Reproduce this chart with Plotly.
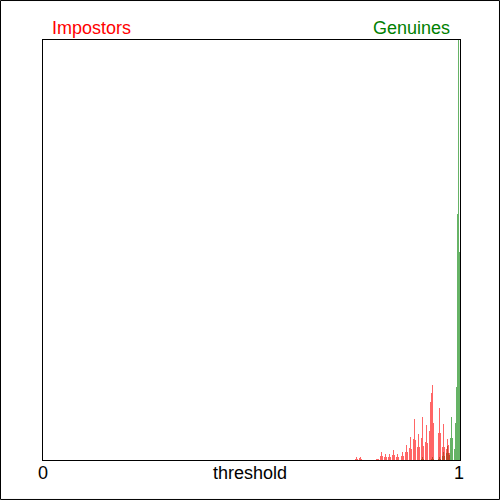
import plotly.graph_objects as go

# Histogram bin centres (threshold) and heights (relative frequency, arbitrary units)
BIN_WIDTH = 0.0025

impostor_threshold = [
    0.7494, 0.7518, 0.7542, 0.7590, 0.7614, 0.7638,
    0.7998, 0.8022, 0.8046, 0.8094, 0.8118, 0.8141,
    0.8189, 0.8213, 0.8237, 0.8285, 0.8309, 0.8333,
    0.8381, 0.8405, 0.8429, 0.8477, 0.8501, 0.8525,
    0.8597, 0.8621, 0.8645, 0.8693, 0.8717, 0.8741,
    0.8789, 0.8813, 0.8837, 0.8885, 0.8909, 0.8933,
    0.8981, 0.9005, 0.9029, 0.9077, 0.9101, 0.9125,
    0.9173, 0.9197, 0.9221, 0.9269, 0.9293, 0.9317,
    0.9341, 0.9365, 0.9484, 0.9508, 0.9532, 0.9580,
    0.9604, 0.9628, 0.9676, 0.9700, 0.9724, 0.9748,
]
impostor_freq = [
    1, 3, 1, 2, 3, 1,
    1, 1, 1, 4, 8, 4,
    3, 6, 3, 3, 6, 3,
    5, 10, 5, 3, 6, 3,
    4, 8, 4, 8, 15, 8,
    12, 23, 11, 21, 41, 20,
    13, 26, 13, 22, 43, 14,
    18, 35, 17, 29, 58, 67,
    75, 37, 27, 52, 27, 13,
    36, 13, 11, 21, 15, 7,
]

genuine_threshold = [
    0.9077, 0.9101, 0.9125, 0.9317, 0.9341, 0.9365,
    0.9484, 0.9508, 0.9532, 0.9580, 0.9604, 0.9628,
    0.9676, 0.9700, 0.9724, 0.9748, 0.9772, 0.9796,
    0.9820, 0.9868, 0.9892, 0.9916, 0.9940, 0.9964,
    0.9988,
]
genuine_freq = [
    1, 3, 1, 1, 3, 1,
    1, 3, 1, 4, 8, 4,
    7, 14, 7, 5, 22, 43,
    22, 11, 37, 73, 246, 420,
    208,
]

FONT = "Liberation Sans, Arial, sans-serif"

fig = go.Figure()
fig.add_trace(go.Bar(
    x=genuine_threshold, y=genuine_freq, width=BIN_WIDTH,
    marker=dict(color="rgba(0,128,0,0.6)", line=dict(width=0)),
    name="Genuines", showlegend=False,
))
fig.add_trace(go.Bar(
    x=impostor_threshold, y=impostor_freq, width=BIN_WIDTH,
    marker=dict(color="rgba(255,0,0,0.6)", line=dict(width=0)),
    name="Impostors", showlegend=False,
))

fig.update_layout(
    width=500, height=500,
    margin=dict(l=43, r=40, t=40, b=40),
    paper_bgcolor="white", plot_bgcolor="white",
    barmode="overlay", bargap=0,
    font=dict(family=FONT, size=18, color="black"),
    xaxis=dict(range=[0, 1], showgrid=False, zeroline=False, showticklabels=False,
               ticks="", showline=True, mirror=True, linecolor="black", linewidth=1),
    yaxis=dict(range=[0, 420], showgrid=False, zeroline=False, showticklabels=False,
               ticks="", showline=True, mirror=True, linecolor="black", linewidth=1),
    shapes=[dict(type="rect", xref="paper", yref="paper",
                 x0=-0.1019, x1=1.0947, y0=-0.0940, y1=1.0940,
                 line=dict(color="black", width=1), fillcolor="rgba(0,0,0,0)", layer="above")],
    annotations=[
        dict(text="Impostors", xref="paper", yref="paper", x=0.0168, y=1.0286,
             xanchor="left", yanchor="middle", showarrow=False,
             font=dict(family=FONT, size=18, color="red")),
        dict(text="Genuines", xref="paper", yref="paper", x=0.9808, y=1.0286,
             xanchor="right", yanchor="middle", showarrow=False,
             font=dict(family=FONT, size=18, color="green")),
        dict(text="0", xref="paper", yref="paper", x=0.0, y=-0.031,
             xanchor="center", yanchor="middle", showarrow=False),
        dict(text="1", xref="paper", yref="paper", x=0.9976, y=-0.031,
             xanchor="center", yanchor="middle", showarrow=False),
        dict(text="threshold", xref="paper", yref="paper", x=0.4964, y=-0.031,
             xanchor="center", yanchor="middle", showarrow=False),
    ],
)

fig.write_html(
    "out.html",
    config={"displayModeBar": False, "staticPlot": True},
    post_script="document.body.style.margin='0';document.body.style.padding='0';"
                "document.body.style.overflow='hidden';",
)
